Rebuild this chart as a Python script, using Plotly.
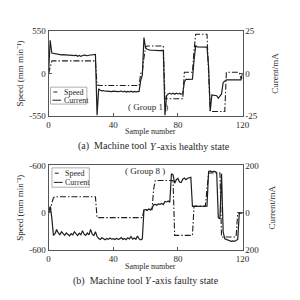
import plotly.graph_objects as go

# ---------------- data ----------------
samples = list(range(121))

speed_a = [0, 80, 160] + [162] * 27 + [-150] + [-155] * 26 + [0, 20, 200, 340] + [355] * 11 \
    + [-325] * 12 + [15] * 6 + [300] + [505] * 8 + [0] + [-490] * 10 + [15] * 9 + [-60, -60]

current_a = [0, 19.5, 12.0,
             11.8, 11.5, 11.3, 11.0, 11.2, 10.9, 11.0, 10.8, 10.9, 10.7, 10.8, 10.6, 10.8, 10.5,
             10.7, 10.1, 10.6, 10.0, 10.5, 10.8, 10.6, 10.4, 10.7, 10.8, 10.6, 10.7, 11.2,
             -24.5, -9.0,
             -9.8, -10.2, -10.0, -10.4, -10.3, -10.5, -10.4, -10.6, -10.3, -10.5, -10.4, -10.6,
             -10.5, -10.3, -10.8, -10.4, -10.9, -10.5, -10.8, -10.4, -10.9, -10.5, -10.8, -10.6, -10.5,
             -4.0, -1.0, 21.0, 15.0,
             14.2, 13.8, 13.6, 13.6, 13.5, 13.6, 13.5, 13.6, 13.4, 13.5, 13.3,
             -24.5, -13.0,
             -12.0, -11.6, -12.1, -11.5, -12.2, -11.6, -12.0, -11.7, -12.1, -11.9,
             -5.0, -3.4, -3.5, -3.4, -3.5, -3.4,
             8.0, 16.2, 15.6, 15.6, 15.5, 15.6, 15.5, 15.6, 15.4,
             4.0, -22.0,
             -12.5, -12.8, -12.7, -13.0, -14.5, -12.8, -12.0,
             -5.3, -4.5,
             -3.7, -3.7, -3.7, -3.7, -3.7, -3.7, -3.7, -3.7, -3.7,
             -3.7, 0.0]

speed_b = [0, 20, 120, 190] + [204] * 26 + [-60] * 29 + [40] * 6 + [300] + [410] * 12 \
    + [-285] * 12 + [85] * 8 + [300] + [505] * 8 + [-306] * 10 + [0] * 4

current_b = [0, 27, -20, -95, -88,
             -70, -85, -92, -80, -90, -95, -85, -92, -97, -88, -93, -80, -90, -96, -86, -92,
             -75, -90, -95, -85, -93, -70, -90, -96, -80,
             -100, -108, -112, -105, -110, -114, -108, -112, -106, -111, -109, -113, -107, -112,
             -110, -104, -112, -108, -113, -105, -110, -100, -111, -106, -112, -98, -110, -114, -110,
             12, 14, 10, 16, 13, 20, 34, 36, 32, 38, 36, 40, 35, 48, 46, 50, 45,
             165, 160, 125, 140, 145, 130, 128, 142, 147, 140, 146, 148, 150,
             27, 27, 28, 27, 27, 28, 27, 27, 28, 28,
             175, 177, 172, 175, 174, 170,
             -20, -25, 165, -80,
             -110, -112, -115, -118, -120, -118, -120, -117, -112,
             0, 0, 0]

x_ticks = [0, 40, 80, 120]
x_tick_labels = ["0", "40", "80", "120"]
speed_a_ticks = [-550, 0, 550]
speed_a_labels = ["-550", "0", "550"]
current_a_ticks = [-25, 0, 25]
current_a_labels = ["-25", "0", "25"]
speed_b_ticks = [-471, 0, 600]
speed_b_labels = ["-600", "0", "-600"]
current_b_ticks = [-157, 0, 200]
current_b_labels = ["200", "0", "200"]

# ---------------- style ----------------
FONT = "Liberation Serif, Times New Roman, serif"
INK = "#1e1e1e"
AXIS = "#555555"
TXT = "#2a2a2a"
W = H = 300
DASHDOT = "6px,2px,1.5px,2px"


def px(x):
    return x / W


def py(y):
    return 1 - y / H


fig = go.Figure()
fig.add_trace(go.Scatter(x=samples, y=speed_a, xaxis="x", yaxis="y", mode="lines",
                         name="Speed", line=dict(color=INK, width=1.1, dash=DASHDOT)))
fig.add_trace(go.Scatter(x=samples, y=current_a, xaxis="x", yaxis="y2", mode="lines",
                         name="Current", line=dict(color=INK, width=1.2)))
fig.add_trace(go.Scatter(x=samples, y=speed_b, xaxis="x2", yaxis="y3", mode="lines",
                         name="Speed", line=dict(color=INK, width=1.1, dash=DASHDOT)))
fig.add_trace(go.Scatter(x=samples, y=current_b, xaxis="x2", yaxis="y4", mode="lines",
                         name="Current", line=dict(color=INK, width=1.2)))

xdom = [px(48), px(248)]
ydom_a = [py(115), py(26.7)]
ydom_b = [py(253.5), py(166)]

common = dict(showgrid=False, zeroline=False, showline=True, linecolor=AXIS, linewidth=1,
              ticks="inside", ticklen=3, tickcolor=AXIS, tickfont=dict(size=9, color=TXT, family=FONT))
tfont = dict(size=9, color=TXT, family=FONT)

fig.update_layout(
    width=W, height=H, margin=dict(l=0, r=0, t=0, b=0),
    paper_bgcolor="white", plot_bgcolor="white", showlegend=False,
    font=dict(family=FONT, color=TXT, size=9),
    xaxis=dict(domain=xdom, range=[0, 120], anchor="y", tickvals=x_ticks, ticktext=x_tick_labels,
               mirror=True, **common),
    yaxis=dict(domain=ydom_a, range=[-550, 550], anchor="x", tickvals=speed_a_ticks,
               ticktext=speed_a_labels,
               title=dict(text="Speed (mm min⁻¹)", font=tfont, standoff=4), **common),
    yaxis2=dict(overlaying="y", side="right", anchor="x", range=[-25, 25], tickvals=current_a_ticks,
                ticktext=current_a_labels,
                title=dict(text="Curent/mA", font=tfont, standoff=14), **common),
    xaxis2=dict(domain=xdom, range=[0, 120], anchor="y3", tickvals=x_ticks, ticktext=x_tick_labels,
                mirror=True, **common),
    yaxis3=dict(domain=ydom_b, range=[-471, 600], anchor="x2", tickvals=speed_b_ticks,
                ticktext=speed_b_labels,
                title=dict(text="Speed (mm min⁻¹)", font=tfont, standoff=4), **common),
    yaxis4=dict(overlaying="y3", side="right", anchor="x2", range=[-157, 200], tickvals=current_b_ticks,
                ticktext=current_b_labels,
                title=dict(text="Current/mA", font=tfont, standoff=10), **common),
)


def note(text, x, y, size=9, anchor="center", style="normal"):
    fig.add_annotation(text=text, x=px(x), y=py(y), xref="paper", yref="paper", showarrow=False,
                       xanchor=anchor, yanchor="middle", borderpad=0,
                       font=dict(family=FONT, size=size, color=TXT, style=style))


note("Sample number", 153, 131, 8)
note("Sample number", 153, 270, 8)
# captions: plain part, italic axis letter, plain remainder
note("(a)  Machine tool", 151, 146, 10, "right")
note("Y", 156, 146, 10, "center", "italic")
note("-axis healthy state", 158.5, 146, 10, "left")
note("(b)  Machine tool", 146, 285, 10, "right")
note("Y", 151, 285, 10, "center", "italic")
note("-axis faulty state", 153.5, 285, 10, "left")
note("( Group 1 )", 150, 105, 9)
note("( Group 8 )", 147, 172, 9)


def legend_box(x0, y0, x1, y1, y_speed, y_current):
    fig.add_shape(type="rect", xref="paper", yref="paper", x0=px(x0), x1=px(x1), y0=py(y1), y1=py(y0),
                  line=dict(color="#9a9a9a", width=0.8), fillcolor="white")
    fig.add_shape(type="line", xref="paper", yref="paper", x0=px(x0 + 3), x1=px(x0 + 7),
                  y0=py(y_speed), y1=py(y_speed), line=dict(color=INK, width=1))
    fig.add_shape(type="line", xref="paper", yref="paper", x0=px(x0 + 2), x1=px(x0 + 11),
                  y0=py(y_current), y1=py(y_current), line=dict(color=INK, width=1))
    for label, yy in (("Speed", y_speed), ("Current", y_current)):
        fig.add_annotation(text=label, x=px(x0 + 11.5), y=py(yy), xref="paper", yref="paper",
                           showarrow=False, xanchor="left", yanchor="middle",
                           font=dict(family=FONT, size=8, color=TXT))


legend_box(50, 85, 87.5, 102.5, 90, 98.5)
legend_box(51.5, 168.5, 90, 188.5, 174, 183.5)

fig.write_html("out.html")
